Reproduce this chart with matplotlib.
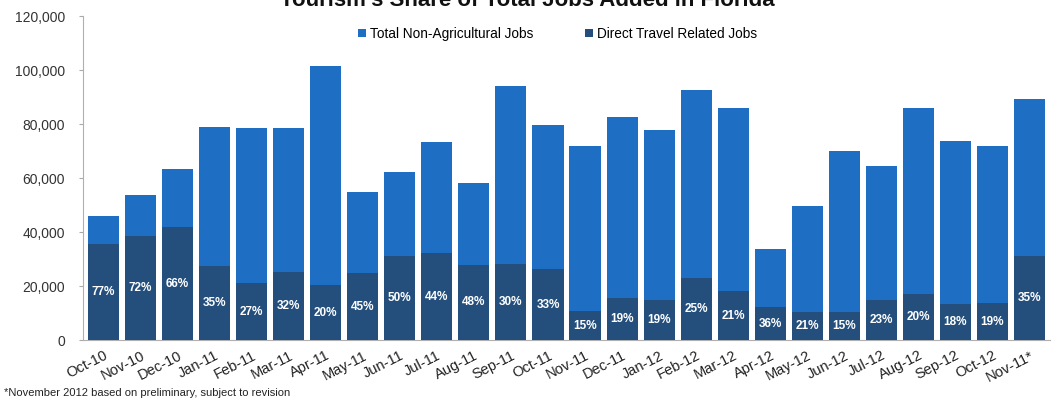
import matplotlib
matplotlib.use("Agg")
import matplotlib.pyplot as plt
import numpy as np

plt.rcParams['font.family'] = ['Liberation Sans', 'DejaVu Sans']

months = ["Oct-10", "Nov-10", "Dec-10", "Jan-11", "Feb-11", "Mar-11", "Apr-11",
          "May-11", "Jun-11", "Jul-11", "Aug-11", "Sep-11", "Oct-11", "Nov-11",
          "Dec-11", "Jan-12", "Feb-12", "Mar-12", "Apr-12", "May-12", "Jun-12",
          "Jul-12", "Aug-12", "Sep-12", "Oct-12", "Nov-11*"]

total_jobs = [46100, 53800, 63400, 78900, 78500, 78500, 101600,
              54900, 62100, 73400, 58300, 94300, 79800, 71800,
              82500, 78000, 92600, 86100, 33900, 49600, 69900,
              64600, 86100, 73900, 72000, 89300]

travel_share_pct = [77, 72, 66, 35, 27, 32, 20,
                    45, 50, 44, 48, 30, 33, 15,
                    19, 19, 25, 21, 36, 21, 15,
                    23, 20, 18, 19, 35]

yticks = [0, 20000, 40000, 60000, 80000, 100000, 120000]

total = np.array(total_jobs, dtype=float)
share = np.array(travel_share_pct, dtype=float)
direct = total * share / 100.0

light_blue = "#1e6fc4"
dark_blue = "#244f7c"

fig = plt.figure(figsize=(10.52, 4.04), dpi=100)
ax = fig.add_axes([0.079, 0.158, 0.919, 0.802])

x = np.arange(len(months))
w = 0.84
ax.bar(x, total, width=w, color=light_blue, label="Total Non-Agricultural Jobs", zorder=2)
ax.bar(x, direct, width=w, color=dark_blue, label="Direct Travel Related Jobs", zorder=3)

for xi, d, p in zip(x, direct, share):
    ax.text(xi, d / 2, f"{int(p)}%", ha="center", va="center", color="white",
            fontsize=8.5, fontweight="bold", zorder=4)

ax.set_xlim(-0.55, len(months) - 0.45)
ax.set_ylim(0, 120000)
ax.set_yticks(yticks)
ax.set_yticklabels([f"{v:,}" for v in yticks], fontsize=10, color="#333333")
ax.set_xticks(x)
ax.set_xticklabels(months, rotation=27, ha="right", rotation_mode="anchor",
                   fontsize=10.5, color="#222222")
ax.tick_params(axis="x", length=0, pad=6)
ax.tick_params(axis="y", length=3, color="#aaaaaa", pad=10)

for side in ["top", "right"]:
    ax.spines[side].set_visible(False)
ax.spines["left"].set_color("#b0b0b0")
ax.spines["bottom"].set_color("#b0b0b0")

ax.legend(loc="center", bbox_to_anchor=(0.53, 0.916), bbox_transform=fig.transFigure,
          ncol=2, frameon=False, fontsize=9.8, handlelength=0.6, handleheight=0.6,
          handletextpad=0.3, columnspacing=3.8)

fig.text(0.501, 1 - 6 / 404, "Tourism's Share of Total Jobs Added in Florida",
         ha="center", va="baseline", fontsize=16, fontweight="bold", color="#111111")

fig.text(0.004, 1 - 393 / 404, "*November 2012 based on preliminary, subject to revision",
         ha="left", va="center", fontsize=8, color="#222222")

fig.savefig("out.png", dpi=100)
